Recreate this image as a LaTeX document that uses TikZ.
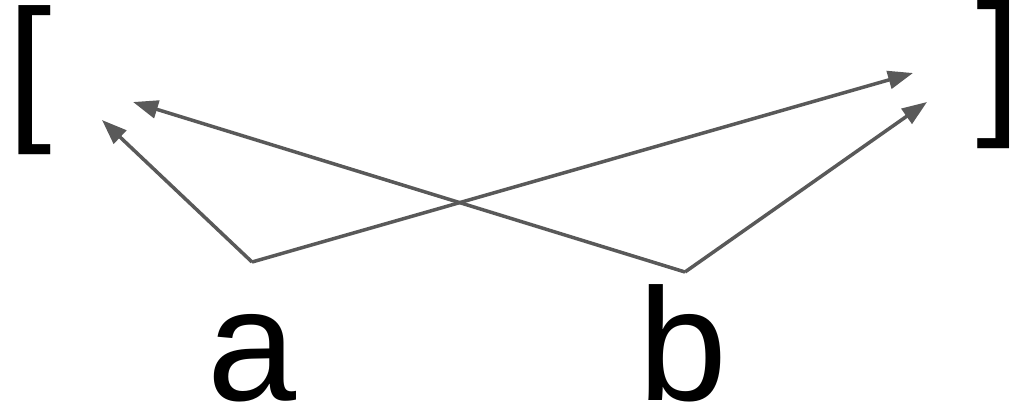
\documentclass[tikz,border=0pt]{standalone}
\usepackage{fontspec}
\setmainfont{Liberation Sans}
\usetikzlibrary{arrows.meta}
\definecolor{arrowgray}{HTML}{595959}
\begin{document}
\begin{tikzpicture}[x=1pt, y=-1pt,
    glyph/.style={inner sep=0pt, anchor=base west, font=\fontsize{160}{160}\selectfont},
    link/.style={arrowgray, line width=3.5pt, -{Triangle[length=25pt, width=18pt]}}]
  \useasboundingbox (0,0) rectangle (1023,408);

  % Brackets
  \node[glyph] (lbr) at (7,121) {[};
  \node[glyph] (rbr) at (976,115) {]};

  % Letters
  \node[glyph] (a) at (207,400) {a};
  \node[glyph] (b) at (638,400) {b};

  % Vertices and tips
  \coordinate (av) at (252,262);
  \coordinate (bv) at (685,272);
  \coordinate (la) at (102,120);
  \coordinate (lb) at (133,102);
  \coordinate (ra) at (913,73);
  \coordinate (rb) at (927,102);

  % Arrows
  \draw[link] (av) -- (la);
  \draw[link] (av) -- (ra);
  \draw[link] (bv) -- (lb);
  \draw[link] (bv) -- (rb);
\end{tikzpicture}
\end{document}
